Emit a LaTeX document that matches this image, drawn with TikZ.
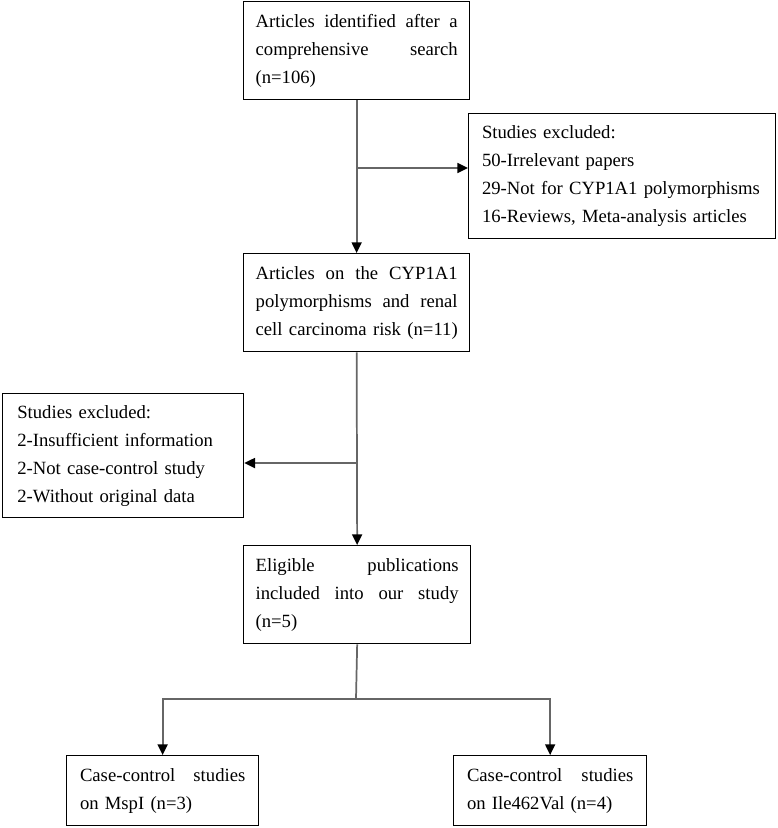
\documentclass[tikz,border=0pt]{standalone}
\usepackage{fontspec}
\setmainfont{Liberation Serif}
\usetikzlibrary{arrows.meta}
\newcommand{\jl}[2]{\leavevmode\makebox[#1][l]{#2}}
\begin{document}
\begin{tikzpicture}[x=0.75pt,y=-0.75pt,
  box/.style={draw=black, line width=1pt, anchor=north west, inner xsep=9pt, inner ysep=0pt,
    align=left, font=\fontsize{14}{21}\selectfont},
  conn/.style={draw=black!60, line width=1.3pt},
  arr/.style={conn, -{Triangle[length=8pt,width=7.5pt,fill=black,color=black]}}]
\useasboundingbox (0,0) rectangle (778,828);

\node[box, text width=151.5pt, minimum width=169.5pt, minimum height=73.5pt] (b1) at (243,1)
  {\jl{151.5pt}{Articles\hfill identified\hfill after\hfill a}\\\jl{151.5pt}{comprehensive\hfill search}\\(n=106)};
\node[box, inner xsep=10pt, text width=210.25pt, minimum width=230.25pt, minimum height=93.75pt] (b2) at (468,113)
  {Studies excluded:\\50-Irrelevant papers\\\mbox{29-Not for CYP1A1 polymorphisms}\\16-Reviews, Meta-analysis articles};
\node[box, text width=151.5pt, minimum width=169.5pt, minimum height=73.5pt] (b3) at (243,253)
  {\jl{151.5pt}{Articles\hfill on\hfill the\hfill CYP1A1}\\\jl{151.5pt}{polymorphisms\hfill and\hfill renal}\\\jl{151.5pt}{cell\hfill carcinoma\hfill risk\hfill (n=11)}};
\node[box, inner xsep=11pt, text width=158.75pt, minimum width=180.75pt, minimum height=93pt] (b4) at (2,393)
  {Studies excluded:\\2-Insufficient information\\2-Not case-control study\\2-Without original data};
\node[box, text width=152.25pt, minimum width=170.25pt, minimum height=73.5pt] (b5) at (243,545)
  {\jl{152.25pt}{Eligible\hfill publications}\\\jl{152.25pt}{included\hfill into\hfill our\hfill study}\\(n=5)};
\node[box, inner xsep=10pt, text width=124pt, minimum width=144pt, minimum height=52.5pt] (b6) at (66,755)
  {\jl{124pt}{Case-control\hfill studies}\\on MspI (n=3)};
\node[box, inner xsep=10pt, text width=124.75pt, minimum width=144.75pt, minimum height=52.5pt] (b7) at (453,755)
  {\jl{124.75pt}{Case-control\hfill studies}\\on Ile462Val (n=4)};

\coordinate (j1) at (356,168);
\coordinate (j2) at (356,463);
\coordinate (j3) at (356,699);

\draw[arr] (b1.south) -- (b3.north);
\draw[arr] (j1) -- (j1 -| b2.west);
\draw[arr] (b3.south) -- (b5.north);
\draw[arr] (j2) -- (j2 -| b4.east);
\draw[conn] (b5.south) -- (j3);
\draw[arr] (j3) -| (b6.north);
\draw[arr] (j3) -| (b7.north);
\end{tikzpicture}
\end{document}
